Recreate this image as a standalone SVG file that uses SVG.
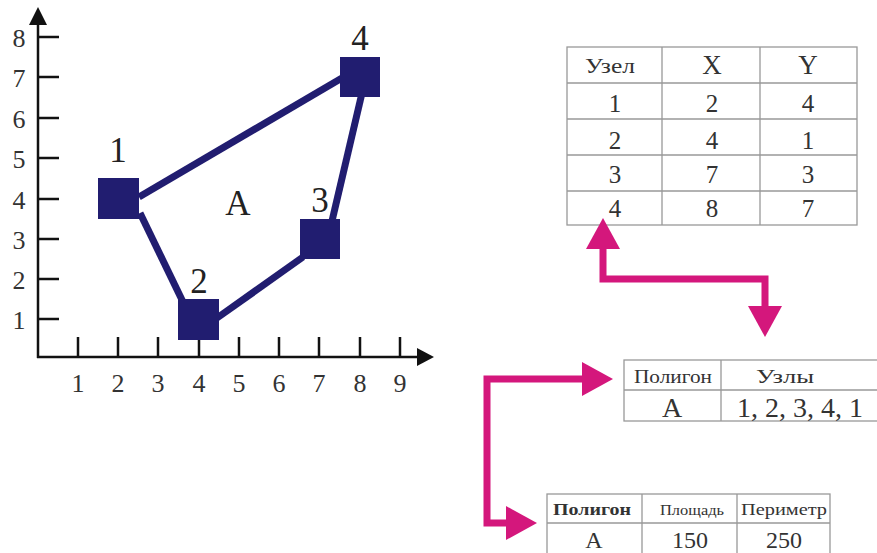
<svg xmlns="http://www.w3.org/2000/svg" width="877" height="553" viewBox="0 0 877 553">
<defs>
<style>
.ax{stroke:#111;stroke-width:2.5;fill:none}
.ah{fill:#111}
.axl{font-size:26px;fill:#333;text-anchor:middle}
.edge{stroke:#211d70;stroke-width:7;fill:none}
.sq{fill:#211d70}
.nl{font-size:35px;fill:#222;text-anchor:middle}
.cell{stroke:#999;stroke-width:1.3;fill:#fff}
.gl{stroke:#999;stroke-width:1.3}
.tt{fill:#333;text-anchor:middle}
.pink{stroke:#d4177c;stroke-width:7;fill:none;marker-start:url(#ph);marker-end:url(#ph)}
</style>
<marker id="ph" markerUnits="userSpaceOnUse" markerWidth="32" markerHeight="34" refX="1" refY="17" orient="auto-start-reverse" viewBox="0 0 32 34"><path d="M0,0 L31,17 L0,34 z" fill="#d4177c"/></marker>
</defs>
<rect width="877" height="553" fill="#fff"/>
<g font-family="'Liberation Serif', 'DejaVu Serif', serif">
<g id="axes">
<line class="ax" x1="38" y1="358" x2="38" y2="22"/>
<polygon class="ah" points="38,7 29,25 47,25"/>
<line class="ax" x1="37" y1="357" x2="418" y2="357"/>
<polygon class="ah" points="434,357 417,348 417,366"/>
<path class="ax" d="M78,337V357M118,337V357M158,337V357M199,337V357M239,337V357M279,337V357M319,337V357M360,337V357M400,337V357"/>
<path class="ax" d="M38,37H59M38,77H59M38,118H59M38,158H59M38,199H59M38,239H59M38,279H59M38,319H59"/>
<text class="axl" x="78" y="392">1</text>
<text class="axl" x="118" y="392">2</text>
<text class="axl" x="158" y="392">3</text>
<text class="axl" x="199" y="392">4</text>
<text class="axl" x="239" y="392">5</text>
<text class="axl" x="279" y="392">6</text>
<text class="axl" x="319" y="392">7</text>
<text class="axl" x="360" y="392">8</text>
<text class="axl" x="400" y="392">9</text>
<text class="axl" x="19" y="47">8</text>
<text class="axl" x="19" y="87">7</text>
<text class="axl" x="19" y="128">6</text>
<text class="axl" x="19" y="168">5</text>
<text class="axl" x="19" y="209">4</text>
<text class="axl" x="19" y="249">3</text>
<text class="axl" x="19" y="289">2</text>
<text class="axl" x="19" y="329">1</text>
</g>

<g id="edges">
<line class="edge" x1="139" y1="197" x2="342" y2="78"/>
<line class="edge" x1="140" y1="213" x2="183" y2="302"/>
<line class="edge" x1="217" y1="318" x2="303" y2="257"/>
<line class="edge" x1="332" y1="221" x2="362" y2="93"/>
</g>

<g id="node1"><rect class="sq" x="98" y="178" width="41" height="41"/><text class="nl" x="118" y="162">1</text></g>
<g id="node2"><rect class="sq" x="178" y="299" width="41" height="41"/><text class="nl" x="199" y="293">2</text></g>
<g id="node3"><rect class="sq" x="300" y="219" width="40" height="40"/><text class="nl" x="320" y="212">3</text></g>
<g id="node4"><rect class="sq" x="340" y="57" width="40" height="40"/><text class="nl" x="360" y="50">4</text></g>
<g id="polyA"><text class="nl" x="238" y="215">A</text></g>

<g id="table-nodes">
<rect class="cell" x="567" y="47" width="290" height="178"/>
<path class="gl" d="M662,47V225M760,47V225M567,83H857M567,119H857M567,155H857M567,191H857"/>
<text class="tt" x="610" y="73" font-size="22" textLength="50" lengthAdjust="spacingAndGlyphs">Узел</text>
<text class="tt" x="712" y="74" font-size="27">X</text>
<text class="tt" x="808" y="74" font-size="27">Y</text>
<text class="tt" x="615" y="112" font-size="25">1</text>
<text class="tt" x="712" y="112" font-size="25">2</text>
<text class="tt" x="808" y="112" font-size="25">4</text>
<text class="tt" x="615" y="149" font-size="25">2</text>
<text class="tt" x="712" y="149" font-size="25">4</text>
<text class="tt" x="808" y="149" font-size="25">1</text>
<text class="tt" x="615" y="183" font-size="25">3</text>
<text class="tt" x="712" y="183" font-size="25">7</text>
<text class="tt" x="808" y="183" font-size="25">3</text>
<text class="tt" x="615" y="217" font-size="25">4</text>
<text class="tt" x="712" y="217" font-size="25">8</text>
<text class="tt" x="808" y="217" font-size="25">7</text>
</g>

<g id="table-polygon">
<rect class="cell" x="624" y="360" width="260" height="61"/>
<path class="gl" d="M721,360V421M624,390H884"/>
<text class="tt" x="673" y="383" font-size="18" textLength="78" lengthAdjust="spacingAndGlyphs">Полигон</text>
<text class="tt" x="785" y="383" font-size="18" textLength="58" lengthAdjust="spacingAndGlyphs">Узлы</text>
<text class="tt" x="672" y="417" font-size="28">А</text>
<text class="tt" x="800" y="417" font-size="28">1, 2, 3, 4, 1</text>
</g>

<g id="table-attrs">
<rect class="cell" x="547" y="494" width="283" height="70"/>
<path class="gl" d="M642,494V560M737,494V560M547,523H830"/>
<text class="tt" x="592" y="515" font-size="16" font-weight="bold" textLength="78" lengthAdjust="spacingAndGlyphs">Полигон</text>
<text class="tt" x="692" y="515" font-size="15" textLength="64" lengthAdjust="spacingAndGlyphs">Площадь</text>
<text class="tt" x="784" y="515" font-size="16" textLength="86" lengthAdjust="spacingAndGlyphs">Периметр</text>
<text class="tt" x="594" y="548" font-size="24">А</text>
<text class="tt" x="690" y="548" font-size="24">150</text>
<text class="tt" x="784" y="548" font-size="24">250</text>
</g>
</g>
<g id="connectors">
<path class="pink" d="M603,248V279H765V307"/>
<path class="pink" d="M583,379H487V523H507"/>
</g>
</svg>
